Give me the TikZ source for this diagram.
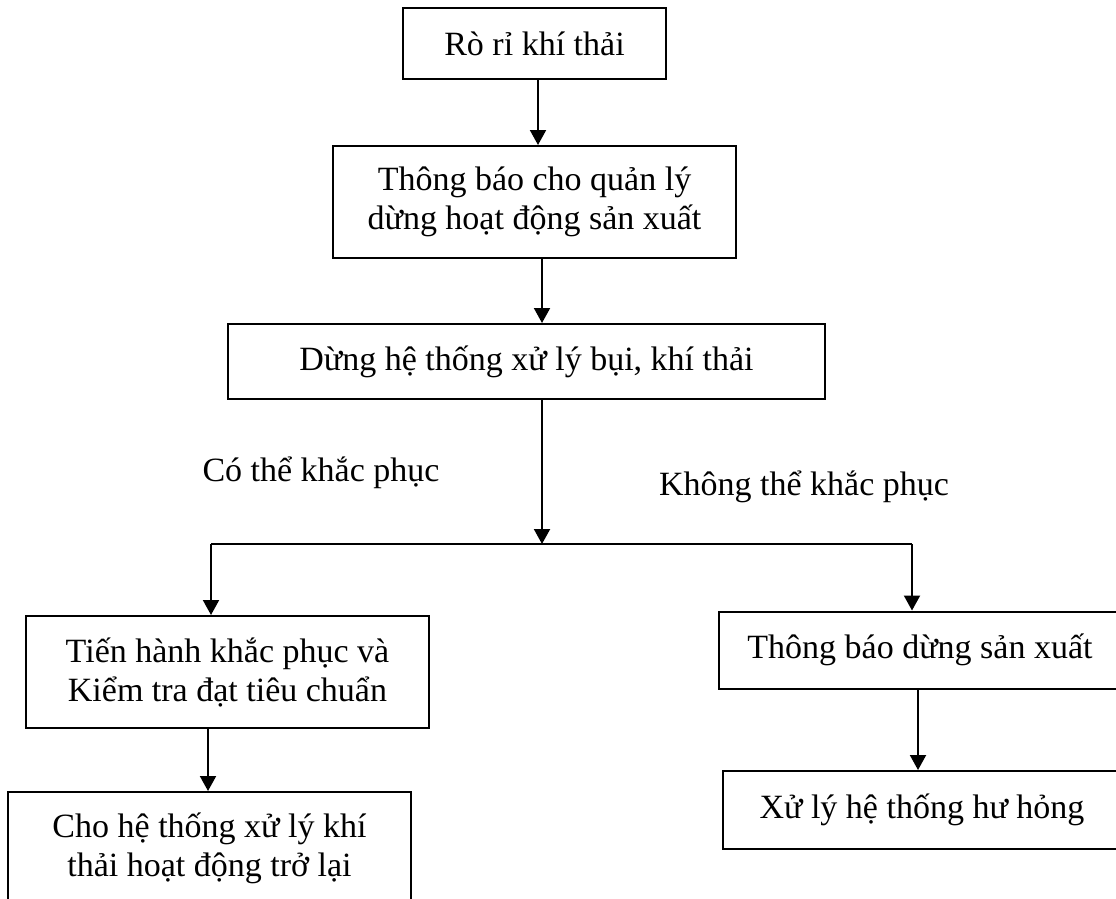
\documentclass[tikz,border=0pt]{standalone}
\usepackage{fontspec}
\setmainfont{Liberation Serif}
\usetikzlibrary{arrows.meta}
\tikzset{
  box/.style={draw, line width=2pt, rectangle, inner sep=0pt, align=center,
    font=\fontsize{34}{39}\selectfont},
  lbl/.style={inner sep=0pt, font=\fontsize{34}{39}\selectfont},
  conn/.style={line width=2pt},
  arr/.style={line width=2pt, -{Triangle[length=15pt,width=16pt]}},
}
\begin{document}
\begin{tikzpicture}[x=1pt,y=-1pt]
\useasboundingbox (0,0) rectangle (1116,899);
\clip (0,0) rectangle (1116,899);
\node[box, minimum width=263pt, minimum height=71pt] (b1) at (534.5,43.5) {Rò rỉ khí thải};
\node[box, minimum width=403pt, minimum height=112pt] (b2) at (534.5,202) {Thông báo cho quản lý\\dừng hoạt động sản xuất};
\node[box, minimum width=597pt, minimum height=75pt] (b3) at (526.5,361.5) {Dừng hệ thống xử lý bụi, khí thải};
\node[box, minimum width=403pt, minimum height=112pt] (b4) at (227.5,672) {Tiến hành khắc phục và\\Kiểm tra đạt tiêu chuẩn};
\node[box, minimum width=403pt, minimum height=112pt] (b5) at (209.5,848) {Cho hệ thống xử lý khí\\thải hoạt động trở lại};
\node[box, minimum width=402pt, minimum height=77pt] (b6) at (920,650) {Thông báo dừng sản xuất};
\node[box, minimum width=398pt, minimum height=78pt] (b7) at (922,810) {Xử lý hệ thống hư hỏng};
\node[lbl] (l1) at (321,473) {Có thể khắc phục};
\node[lbl] (l2) at (804,487) {Không thể khắc phục};
\coordinate (xa) at (538,0);
\coordinate (xb) at (542,0);
\coordinate (xc) at (208,0);
\coordinate (xd) at (918,0);
\coordinate (j) at (542,544);
\coordinate (jl) at (211,544);
\coordinate (jr) at (912,544);
\draw[arr] (b1.south -| xa) -- (b2.north -| xa);
\draw[arr] (b2.south -| xb) -- (b3.north -| xb);
\draw[arr] (b3.south -| xb) -- (j);
\draw[conn] (jl) -- (jr);
\draw[arr] (jl) -- (b4.north -| jl);
\draw[arr] (jr) -- (b6.north -| jr);
\draw[arr] (b4.south -| xc) -- (b5.north -| xc);
\draw[arr] (b6.south -| xd) -- (b7.north -| xd);
\end{tikzpicture}
\end{document}
